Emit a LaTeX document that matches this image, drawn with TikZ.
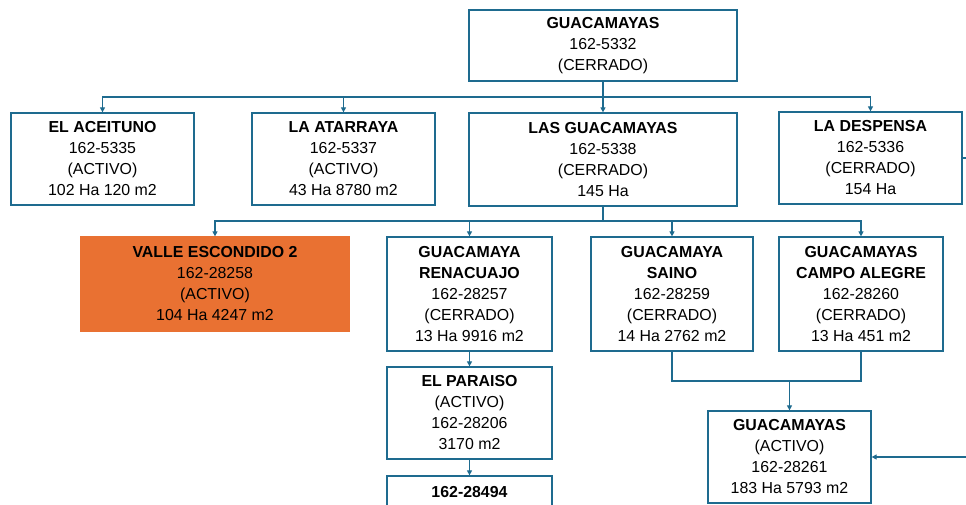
\documentclass[tikz,border=0pt]{standalone}
\usepackage{fontspec}
\setmainfont{Liberation Sans}
\usetikzlibrary{arrows.meta}
\definecolor{bdr}{HTML}{1E6B8F}
\definecolor{org}{HTML}{E97132}
\tikzset{
  box/.style={draw=bdr, line width=1.3pt, fill=white, align=center, inner sep=0pt,
    font=\fontsize{15.9}{21}\selectfont, text=black},
  obox/.style={box, draw=org, fill=org},
  conn/.style={draw=bdr, line width=1.3pt},
  arr/.style={conn, -{Triangle[length=5pt,width=5pt]}},
}
\begin{document}
\begin{tikzpicture}[x=1pt,y=-1pt]
\useasboundingbox[fill=white] (0,0) rectangle (966,504);
% row 0
\node[box, minimum width=268, minimum height=71] (top) at (603,45.5) {\textbf{GUACAMAYAS}\\162-5332\\(CERRADO)};
% row 1
\node[box, minimum width=183, minimum height=92] (aceituno) at (102.5,159) {\textbf{EL ACEITUNO}\\162-5335\\(ACTIVO)\\102 Ha 120 m2};
\node[box, minimum width=183, minimum height=92] (atarraya) at (343.5,159) {\textbf{LA ATARRAYA}\\162-5337\\(ACTIVO)\\43 Ha 8780 m2};
\node[box, minimum width=268, minimum height=93] (lasg) at (603,159.5) {\textbf{LAS GUACAMAYAS}\\162-5338\\(CERRADO)\\145 Ha};
\node[box, minimum width=183, minimum height=92] (despensa) at (870.5,158) {\textbf{LA DESPENSA}\\162-5336\\(CERRADO)\\154 Ha};
% row 2
\node[obox, minimum width=268, minimum height=94] (valle) at (215,284) {\textbf{VALLE ESCONDIDO 2}\\162-28258\\(ACTIVO)\\104 Ha 4247 m2};
\node[box, minimum width=165, minimum height=114] (renacuajo) at (469.5,294) {\textbf{GUACAMAYA}\\\textbf{RENACUAJO}\\162-28257\\(CERRADO)\\13 Ha 9916 m2};
\node[box, minimum width=162, minimum height=114] (saino) at (672,294) {\textbf{GUACAMAYA}\\\textbf{SAINO}\\162-28259\\(CERRADO)\\14 Ha 2762 m2};
\node[box, minimum width=164, minimum height=114] (campo) at (861,294) {\textbf{GUACAMAYAS}\\\textbf{CAMPO ALEGRE}\\162-28260\\(CERRADO)\\13 Ha 451 m2};
% row 3
\node[box, minimum width=165, minimum height=92] (paraiso) at (469.5,413) {\textbf{EL PARAISO}\\(ACTIVO)\\162-28206\\3170 m2};
\node[box, minimum width=165, minimum height=32] (b494) at (469.5,492) {\textbf{162-28494}};
\node[box, minimum width=163, minimum height=92] (guac2) at (789.5,457) {\textbf{GUACAMAYAS}\\(ACTIVO)\\162-28261\\183 Ha 5793 m2};
% junctions
\coordinate (j1) at (603,97);
\coordinate (j2) at (603,221);
\coordinate (j3) at (789.5,381);
\coordinate (e1) at (972,158);
\coordinate (e2) at (972,457);
% connectors
\draw[conn, line width=2pt] (top.south) -- (j1);
\draw[arr] (j1) -| (aceituno.north);
\draw[arr] (j1) -| (atarraya.north);
\draw[arr] (j1) -- (lasg.north);
\draw[arr] (j1) -| (despensa.north);
\draw[conn, line width=1.8pt] (lasg.south) -- (j2);
\draw[arr] (j2) -| (valle.north);
\draw[arr] (j2) -| (renacuajo.north);
\draw[arr] (j2) -| (saino.north);
\draw[arr] (j2) -| (campo.north);
\draw[arr] (renacuajo.south) -- (paraiso.north);
\draw[arr] (paraiso.south) -- (b494.north);
\draw[conn] (saino.south) |- (j3);
\draw[conn] (campo.south) |- (j3);
\draw[arr] (j3) -- (guac2.north);
\draw[conn] (despensa.east) -- (e1);
\draw[arr] (e2) -- (guac2.east);
\end{tikzpicture}
\end{document}
